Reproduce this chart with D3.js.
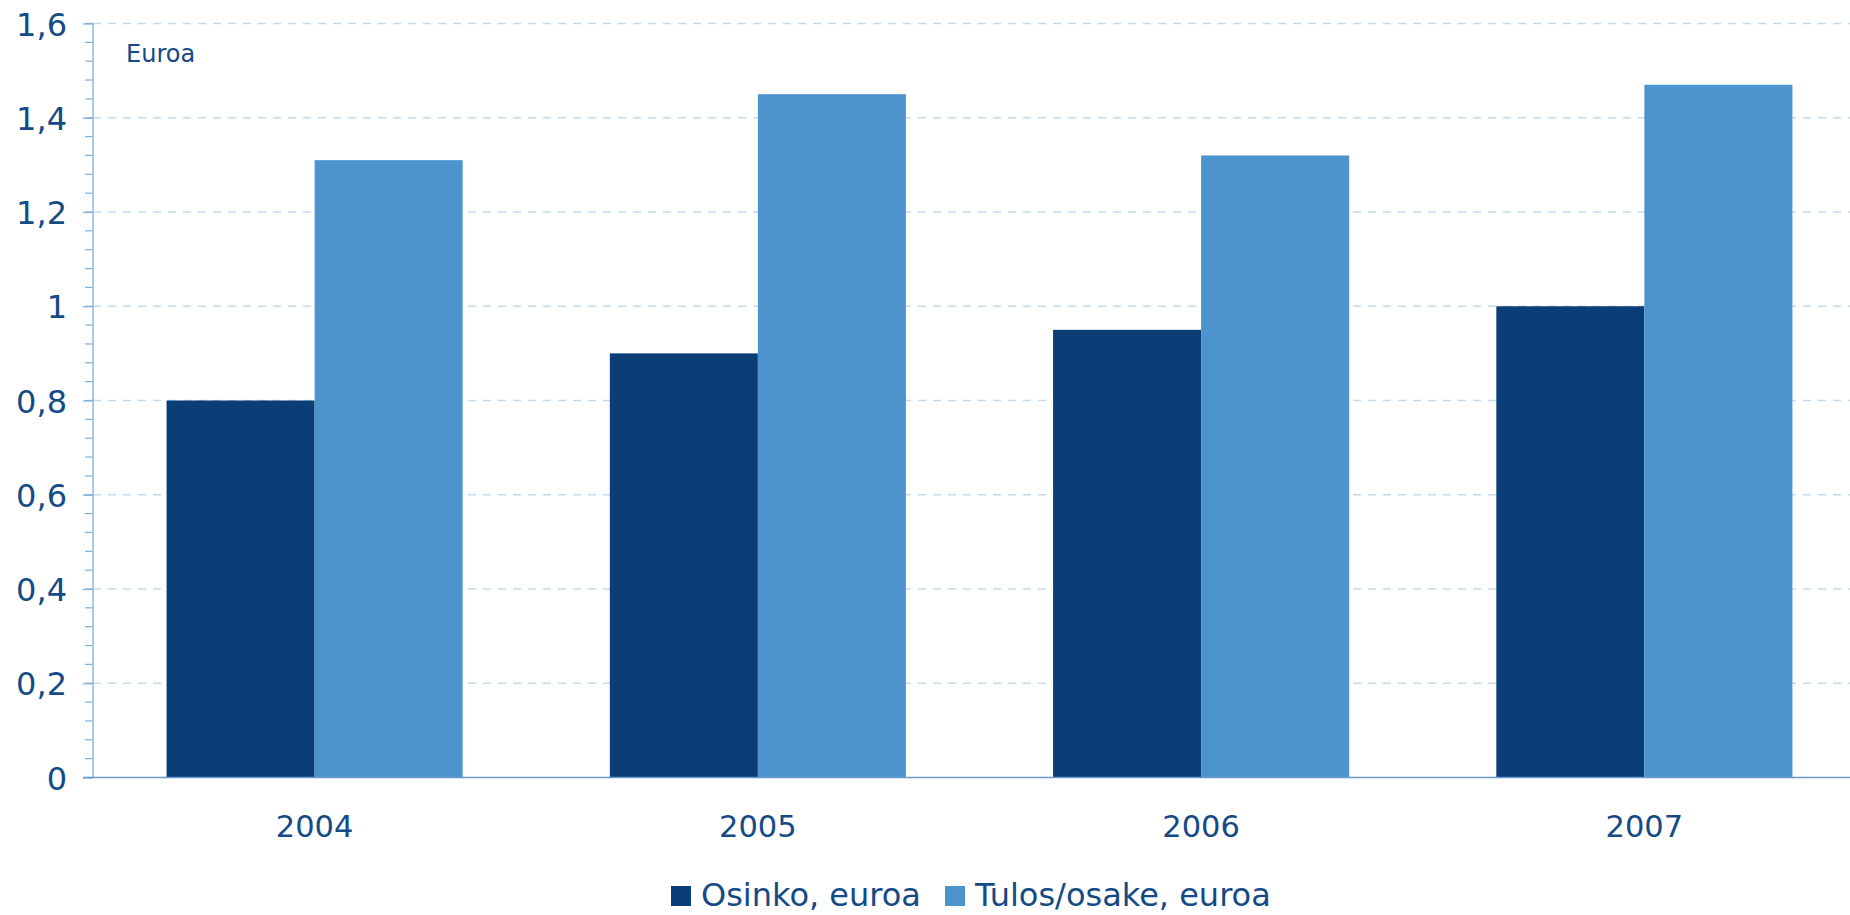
<!DOCTYPE html>
<html><head><meta charset="utf-8">
<script src="https://cdn.jsdelivr.net/npm/d3@7"></script>
<style>body{margin:0;background:#fff}svg{display:block}</style>
</head><body>
<svg id="c" width="1850" height="915"></svg>
<script>
const categories = ["2004","2005","2006","2007"];
const seriesNames = ["Osinko, euroa","Tulos/osake, euroa"];
const osinko = [0.80, 0.90, 0.95, 1.00];
const tulos = [1.31, 1.45, 1.32, 1.47];
const yTicks = [0,0.2,0.4,0.6,0.8,1,1.2,1.4,1.6];
const unitLabel = "Euroa";
const colors = ["#0B3D77","#4D94CE"];
const textColor = "#144A85";

(function(){
const svg = d3.select("#c");
const mLeft = 93, mTop = 23.5, mBottom = 777.5;
const x = d3.scaleBand().domain(categories).range([mLeft, 1866]).paddingInner(0.332).paddingOuter(0.166);
const xs = d3.scaleBand().domain(seriesNames).range([0, x.bandwidth()]);
const y = d3.scaleLinear().domain([0,1.6]).range([mBottom, mTop]);

// grid
svg.append("g").selectAll("line").data(yTicks.filter(d=>d>0)).join("line")
  .attr("x1", mLeft).attr("x2", 1850).attr("y1", d=>y(d)).attr("y2", d=>y(d))
  .attr("stroke","#C3DAEF").attr("stroke-width",1.5).attr("stroke-dasharray","8,7");

// bars
const vals = [osinko, tulos];
seriesNames.forEach((s,si)=>{
  svg.append("g").selectAll("rect").data(categories).join("rect")
    .attr("x", c=>x(c)+xs(s)).attr("width", xs.bandwidth())
    .attr("y", (c,i)=>y(vals[si][i])).attr("height",(c,i)=>y(0)-y(vals[si][i]))
    .attr("fill", colors[si]);
});

// y axis with minor ticks
const minor = d3.range(0,1.6001,0.04);
svg.append("g").selectAll("line").data(minor).join("line")
  .attr("x1", mLeft-8).attr("x2", mLeft).attr("y1", d=>y(d)).attr("y2", d=>y(d))
  .attr("stroke","#7FB0DC").attr("stroke-width",1.2);
svg.append("line").attr("x1",mLeft).attr("x2",mLeft).attr("y1",y(1.6)).attr("y2",mBottom)
  .attr("stroke","#8DB8E0").attr("stroke-width",1.5);
const yAxis = d3.axisLeft(y).tickValues(yTicks).tickSize(10).tickPadding(16)
  .tickFormat(d=>String(+d.toFixed(1)).replace(".",","));
const ya = svg.append("g").attr("transform",`translate(${mLeft},0)`).call(yAxis);
ya.select(".domain").remove();
ya.selectAll(".tick line").attr("stroke","#7FB0DC").attr("stroke-width",1.2);
ya.selectAll("text").attr("fill",textColor).style("font-family","DejaVu Sans").style("font-size","32px").attr("dy","0.36em");

// x axis
svg.append("line").attr("x1",mLeft-10).attr("x2",1850).attr("y1",mBottom).attr("y2",mBottom)
  .attr("stroke","#6A9ACB").attr("stroke-width",1.5);
const xa = svg.append("g").attr("transform",`translate(0,${mBottom})`).call(d3.axisBottom(x).tickSize(0).tickPadding(38));
xa.select(".domain").remove();
xa.selectAll("text").attr("fill",textColor).style("font-family","DejaVu Sans").style("font-size","30.5px").attr("dy","0.36em").attr("y",49);

// unit label
svg.append("text").attr("x",126).attr("y",62).text(unitLabel)
  .attr("fill",textColor).style("font-family","DejaVu Sans").style("font-size","24px");

// legend
const legX = [671, 945];
const lg = svg.append("g");
seriesNames.forEach((s,i)=>{
  lg.append("rect").attr("x",legX[i]).attr("y",886).attr("width",20).attr("height",20).attr("fill",colors[i]);
  lg.append("text").attr("x",legX[i]+30).attr("y",906).text(s)
    .attr("fill",textColor).style("font-family","DejaVu Sans").style("font-size","32px");
});
})();
</script>
</body></html>
